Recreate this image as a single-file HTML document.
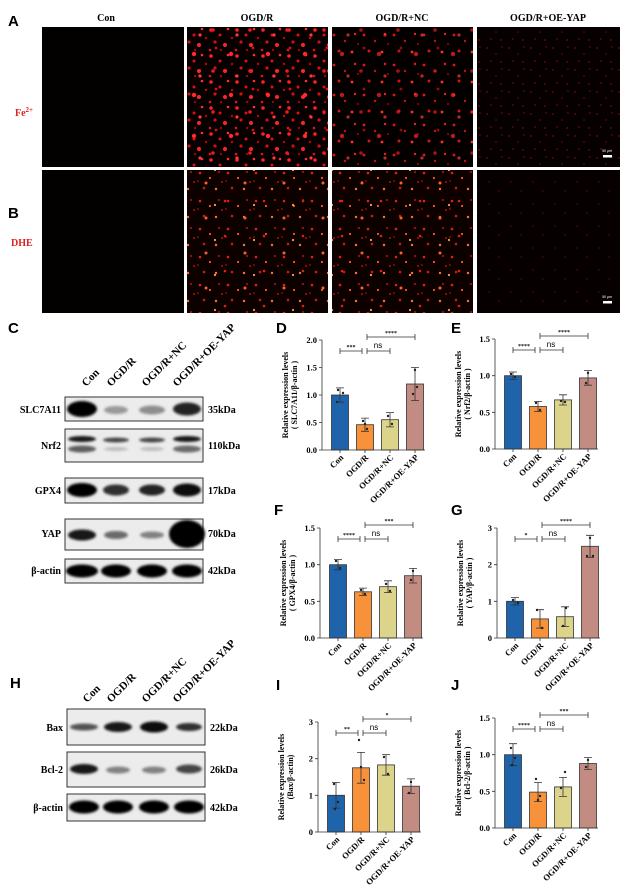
<!DOCTYPE html>
<html><head><meta charset="utf-8"><style>
body{margin:0;background:#fff}
svg{display:block}
.t{font-family:"Liberation Serif",serif;font-weight:bold}
.s{font-family:"Liberation Sans",sans-serif;font-weight:bold}
</style></head><body>
<svg width="620" height="892" viewBox="0 0 620 892" xmlns="http://www.w3.org/2000/svg">
<defs>
<filter id="bl" x="-50%" y="-50%" width="200%" height="200%"><feGaussianBlur stdDeviation="1.4"/></filter>
<pattern id="p1" width="26" height="26" patternUnits="userSpaceOnUse">
<rect width="26" height="26" fill="#060000"/>
<circle cx="3" cy="4" r="1.8" fill="#ff2020"/><circle cx="12" cy="9" r="1.5" fill="#e01010"/>
<circle cx="20" cy="3" r="1.3" fill="#ff3030"/><circle cx="7" cy="16" r="1.6" fill="#d01010"/>
<circle cx="17" cy="19" r="2" fill="#ff2525"/><circle cx="24" cy="12" r="1.2" fill="#c00"/>
<circle cx="2" cy="24" r="1.3" fill="#e51515"/><circle cx="13" cy="24" r="1.1" fill="#b00"/>
</pattern>
<pattern id="q1" width="37" height="41" patternUnits="userSpaceOnUse">
<circle cx="9" cy="13" r="2.2" fill="#ff2a2a"/><circle cx="28" cy="30" r="1.8" fill="#f01818"/>
<circle cx="31" cy="7" r="1.4" fill="#d81010"/><circle cx="15" cy="35" r="1.6" fill="#ff3a3a"/>
</pattern>
<pattern id="p2" width="30" height="30" patternUnits="userSpaceOnUse">
<rect width="30" height="30" fill="#050000"/>
<circle cx="4" cy="5" r="1.4" fill="#e01515"/><circle cx="15" cy="11" r="1.2" fill="#c01010"/>
<circle cx="25" cy="4" r="1.2" fill="#e52020"/><circle cx="9" cy="21" r="1.5" fill="#d01515"/>
<circle cx="22" cy="22" r="1.4" fill="#ff3020"/><circle cx="28" cy="14" r="1" fill="#a00"/>
</pattern>
<pattern id="p3" width="22" height="22" patternUnits="userSpaceOnUse">
<rect width="22" height="22" fill="#070000"/>
<circle cx="3" cy="4" r="1" fill="#5a0808"/><circle cx="12" cy="10" r="1" fill="#4a0505"/>
<circle cx="18" cy="3" r="0.9" fill="#600a0a"/><circle cx="7" cy="17" r="1" fill="#500707"/>
<circle cx="17" cy="18" r="1" fill="#5a0808"/>
</pattern>
<pattern id="p4" width="28" height="28" patternUnits="userSpaceOnUse">
<rect width="28" height="28" fill="#0d0100"/>
<circle cx="4" cy="5" r="1.3" fill="#e02010"/><circle cx="14" cy="10" r="1.1" fill="#ff5020"/>
<circle cx="23" cy="4" r="1" fill="#c01510"/><circle cx="8" cy="20" r="1.3" fill="#d01a10"/>
<circle cx="20" cy="21" r="1.2" fill="#ff7030"/><circle cx="26" cy="14" r="1" fill="#b01008"/>
<circle cx="2" cy="13" r="0.9" fill="#a01008"/>
</pattern>
<pattern id="q4" width="39" height="35" patternUnits="userSpaceOnUse">
<circle cx="11" cy="8" r="1.5" fill="#ff6020"/><circle cx="30" cy="26" r="1.3" fill="#e02010"/>
<circle cx="20" cy="30" r="1.1" fill="#ffa040"/>
</pattern>
<pattern id="p5" width="22" height="22" patternUnits="userSpaceOnUse">
<rect width="22" height="22" fill="#070000"/>
<circle cx="5" cy="6" r="1" fill="#3a0505"/><circle cx="15" cy="15" r="1" fill="#3a0505"/>
</pattern>
</defs>

<text class="s" x="8" y="26" font-size="15">A</text>
<text class="s" x="8" y="218" font-size="15">B</text>
<text class="t" x="106" y="21" font-size="10" text-anchor="middle">Con</text>
<text class="t" x="257" y="21" font-size="10" text-anchor="middle">OGD/R</text>
<text class="t" x="402" y="21" font-size="10" text-anchor="middle">OGD/R+NC</text>
<text class="t" x="548" y="21" font-size="10" text-anchor="middle">OGD/R+OE-YAP</text>
<text class="t" x="15" y="116" font-size="10" fill="#e02020">Fe<tspan font-size="7" dy="-4">2+</tspan></text>
<text class="t" x="11" y="246" font-size="10" fill="#e02020">DHE</text>

<rect x="42" y="27" width="142" height="140" fill="#030000"/>
<rect x="187" y="27" width="141" height="140" fill="url(#p1)"/>
<rect x="187" y="27" width="141" height="140" fill="url(#q1)"/>
<rect x="332" y="27" width="141" height="140" fill="url(#p2)"/>
<rect x="332" y="27" width="141" height="140" fill="url(#q1)" opacity=".7"/>
<rect x="477" y="27" width="143" height="140" fill="url(#p3)"/>
<rect x="42" y="170" width="142" height="143" fill="#030000"/>
<rect x="187" y="170" width="141" height="143" fill="url(#p4)"/>
<rect x="187" y="170" width="141" height="143" fill="url(#q4)"/>
<rect x="332" y="170" width="141" height="143" fill="url(#p4)"/>
<rect x="332" y="170" width="141" height="143" fill="url(#q4)"/>
<rect x="477" y="170" width="143" height="143" fill="url(#p5)"/>
<text x="612" y="152" font-size="3.5" fill="#fff" text-anchor="end" font-family="Liberation Sans,sans-serif">50 μm</text>
<rect x="603" y="155" width="9" height="2.5" fill="#fff"/>
<text x="612" y="298" font-size="3.5" fill="#fff" text-anchor="end" font-family="Liberation Sans,sans-serif">50 μm</text>
<rect x="603" y="301" width="9" height="2.5" fill="#fff"/>

<text class="s" x="8" y="333" font-size="15">C</text>
<g class="t" font-size="11">
<text transform="translate(86,387) rotate(-45)">Con</text>
<text transform="translate(111,387) rotate(-45)">OGD/R</text>
<text transform="translate(146,387) rotate(-45)">OGD/R+NC</text>
<text transform="translate(177,387) rotate(-45)">OGD/R+OE-YAP</text>
</g>
<g fill="#ececec" stroke="#333" stroke-width="1">
<rect x="65" y="397" width="138" height="24"/>
<rect x="65" y="429" width="138" height="33"/>
<rect x="65" y="478" width="138" height="25"/>
<rect x="65" y="519" width="138" height="31"/>
<rect x="65" y="559" width="138" height="24"/>
</g>
<g filter="url(#bl)" fill="#000">
<ellipse cx="82" cy="409" rx="15" ry="8"/>
<ellipse cx="116" cy="410" rx="12" ry="4" opacity=".35"/>
<ellipse cx="152" cy="410" rx="13" ry="4.5" opacity=".4"/>
<ellipse cx="187" cy="409" rx="14" ry="6.5" opacity=".85"/>
<ellipse cx="82" cy="439" rx="14" ry="3" opacity=".9"/>
<ellipse cx="82" cy="449" rx="14" ry="3.5" opacity=".6"/>
<ellipse cx="116" cy="440" rx="13" ry="2.5" opacity=".7"/>
<ellipse cx="116" cy="449" rx="12" ry="2" opacity=".2"/>
<ellipse cx="152" cy="440" rx="13" ry="2.5" opacity=".7"/>
<ellipse cx="152" cy="449" rx="12" ry="2" opacity=".2"/>
<ellipse cx="187" cy="439" rx="14" ry="3" opacity=".9"/>
<ellipse cx="187" cy="449" rx="14" ry="3.5" opacity=".55"/>
<ellipse cx="82" cy="490" rx="15" ry="7"/>
<ellipse cx="116" cy="490" rx="13" ry="5.5" opacity=".8"/>
<ellipse cx="152" cy="490" rx="13" ry="5.5" opacity=".85"/>
<ellipse cx="187" cy="490" rx="14" ry="6.5" opacity=".95"/>
<ellipse cx="82" cy="535" rx="14" ry="5.5" opacity=".9"/>
<ellipse cx="116" cy="535" rx="12" ry="4" opacity=".55"/>
<ellipse cx="152" cy="535" rx="12" ry="3.5" opacity=".45"/>
<ellipse cx="187" cy="534" rx="18" ry="14"/>
<ellipse cx="82" cy="571" rx="16" ry="6.5"/>
<ellipse cx="116" cy="571" rx="15" ry="6.5"/>
<ellipse cx="152" cy="571" rx="15" ry="6.5"/>
<ellipse cx="187" cy="571" rx="15" ry="6.5"/>
</g>
<g class="t" font-size="10">
<text x="61" y="413" text-anchor="end">SLC7A11</text>
<text x="61" y="449" text-anchor="end">Nrf2</text>
<text x="61" y="494" text-anchor="end">GPX4</text>
<text x="61" y="537" text-anchor="end">YAP</text>
<text x="61" y="574" text-anchor="end">β-actin</text>
<text x="208" y="413">35kDa</text>
<text x="208" y="449">110kDa</text>
<text x="208" y="494">17kDa</text>
<text x="208" y="537">70kDa</text>
<text x="208" y="574">42kDa</text>
</g>

<text class="s" x="10" y="688" font-size="15">H</text>
<g class="t" font-size="11">
<text transform="translate(87,703) rotate(-45)">Con</text>
<text transform="translate(111,703) rotate(-45)">OGD/R</text>
<text transform="translate(146,703) rotate(-45)">OGD/R+NC</text>
<text transform="translate(177,703) rotate(-45)">OGD/R+OE-YAP</text>
</g>
<g fill="#ececec" stroke="#333" stroke-width="1">
<rect x="67" y="709" width="138" height="36"/>
<rect x="67" y="752" width="138" height="35"/>
<rect x="67" y="794" width="138" height="27"/>
</g>
<g filter="url(#bl)" fill="#000">
<ellipse cx="84" cy="727" rx="14" ry="3.5" opacity=".65"/>
<ellipse cx="118" cy="727" rx="14" ry="5" opacity=".9"/>
<ellipse cx="154" cy="727" rx="14" ry="5.5" opacity=".95"/>
<ellipse cx="189" cy="727" rx="13" ry="4" opacity=".8"/>
<ellipse cx="84" cy="769" rx="14" ry="5" opacity=".9"/>
<ellipse cx="118" cy="770" rx="12" ry="3.5" opacity=".45"/>
<ellipse cx="154" cy="770" rx="12" ry="3.5" opacity=".45"/>
<ellipse cx="189" cy="769" rx="13" ry="4.5" opacity=".7"/>
<ellipse cx="84" cy="807" rx="15" ry="6.5"/>
<ellipse cx="118" cy="807" rx="15" ry="6.5"/>
<ellipse cx="154" cy="807" rx="15" ry="6.5"/>
<ellipse cx="189" cy="807" rx="15" ry="6.5"/>
</g>
<g class="t" font-size="10">
<text x="63" y="731" text-anchor="end">Bax</text>
<text x="63" y="773" text-anchor="end">Bcl-2</text>
<text x="63" y="811" text-anchor="end">β-actin</text>
<text x="210" y="731">22kDa</text>
<text x="210" y="773">26kDa</text>
<text x="210" y="811">42kDa</text>
</g>

<g class="s" font-size="15">
<text x="276" y="333">D</text><text x="451" y="333">E</text>
<text x="274" y="515">F</text><text x="451" y="515">G</text>
<text x="276" y="690">I</text><text x="451" y="690">J</text>
</g>

<!-- Chart D -->
<g transform="translate(322,340)" stroke="#333" stroke-width="0.8">
<rect x="9.5" y="55" width="17" height="55" fill="#1f63ab"/>
<rect x="34.5" y="84.7" width="17" height="25.3" fill="#f7923a"/>
<rect x="59.5" y="79.7" width="17" height="30.3" fill="#dcd48a"/>
<rect x="84.5" y="44" width="17" height="66" fill="#c38c82"/>
<path d="M18 47.9V62.2M14 47.9h8M14 62.2h8M43 78.1V91.3M39 78.1h8M39 91.3h8M68 72.6V86.9M64 72.6h8M64 86.9h8M93 27.5V60.5M89 27.5h8M89 60.5h8" fill="none"/>
<path d="M0 0V110H103M0 0h-3M0 27.5h-3M0 55h-3M0 82.5h-3M0 110h-3M18 110v3M43 110v3M68 110v3M93 110v3" fill="none"/>
<path d="M18 11h22M18 8v6M40 8v6M45 11h23M45 8v6M68 8v6M45 -3h48M45 -6v6M93 -6v6" fill="none"/>
<g fill="#222" stroke="none"><circle cx="16" cy="50" r="1.2"/><circle cx="21" cy="53" r="1.2"/><circle cx="15" cy="62" r="1.2"/><circle cx="41" cy="81" r="1.2"/><circle cx="45" cy="89" r="1.2"/><circle cx="43" cy="84" r="1.2"/><circle cx="66" cy="76" r="1.2"/><circle cx="70" cy="84" r="1.2"/><circle cx="93" cy="30" r="1.2"/><circle cx="91" cy="54" r="1.2"/><circle cx="95" cy="47" r="1.2"/></g>
</g>
<g transform="translate(322,340)" font-size="8.5" class="t">
<text x="-5" y="3" text-anchor="end">2.0</text><text x="-5" y="30.5" text-anchor="end">1.5</text><text x="-5" y="58" text-anchor="end">1.0</text><text x="-5" y="85.5" text-anchor="end">0.5</text><text x="-5" y="113" text-anchor="end">0.0</text>
<text x="29" y="9" font-size="6" text-anchor="middle">***</text><text x="56" y="8" font-size="8" font-weight="normal" font-family="Liberation Sans,sans-serif" text-anchor="middle">ns</text><text x="69" y="-5" font-size="6" text-anchor="middle">****</text>
<text transform="translate(-34,55) rotate(-90)" text-anchor="middle" font-size="8">Relative expression levels</text>
<text transform="translate(-25,55) rotate(-90)" text-anchor="middle" font-size="8">( SLC7A11/β-actin )</text>
<text transform="translate(22,118) rotate(-45)" text-anchor="end">Con</text><text transform="translate(47,118) rotate(-45)" text-anchor="end">OGD/R</text><text transform="translate(72,118) rotate(-45)" text-anchor="end">OGD/R+NC</text><text transform="translate(97,118) rotate(-45)" text-anchor="end">OGD/R+OE-YAP</text>
</g>

<!-- Chart E -->
<g transform="translate(495,339)" stroke="#333" stroke-width="0.8">
<rect x="9.5" y="36.7" width="17" height="73.3" fill="#1f63ab"/>
<rect x="34.5" y="67.5" width="17" height="42.5" fill="#f7923a"/>
<rect x="59.5" y="60.9" width="17" height="49.1" fill="#dcd48a"/>
<rect x="84.5" y="38.9" width="17" height="71.1" fill="#c38c82"/>
<path d="M18 33V40.4M14 33h8M14 40.4h8M43 62.4V72.6M39 62.4h8M39 72.6h8M68 55.8V66M64 55.8h8M64 66h8M93 31.6V46.2M89 31.6h8M89 46.2h8" fill="none"/>
<path d="M0 0V110H103M0 0h-3M0 36.7h-3M0 73.3h-3M0 110h-3M18 110v3M43 110v3M68 110v3M93 110v3" fill="none"/>
<path d="M18 11h22M18 8v6M40 8v6M45 11h23M45 8v6M68 8v6M45 -3h48M45 -6v6M93 -6v6" fill="none"/>
<g fill="#222" stroke="none"><circle cx="16" cy="35" r="1.2"/><circle cx="20" cy="38" r="1.2"/><circle cx="41" cy="64" r="1.2"/><circle cx="45" cy="71" r="1.2"/><circle cx="66" cy="62" r="1.2"/><circle cx="70" cy="63" r="1.2"/><circle cx="93" cy="34" r="1.2"/><circle cx="91" cy="44" r="1.2"/></g>
</g>
<g transform="translate(495,339)" font-size="8.5" class="t">
<text x="-5" y="3" text-anchor="end">1.5</text><text x="-5" y="39.7" text-anchor="end">1.0</text><text x="-5" y="76.3" text-anchor="end">0.5</text><text x="-5" y="113" text-anchor="end">0.0</text>
<text x="29" y="9" font-size="6" text-anchor="middle">****</text><text x="56" y="8" font-size="8" font-weight="normal" font-family="Liberation Sans,sans-serif" text-anchor="middle">ns</text><text x="69" y="-5" font-size="6" text-anchor="middle">****</text>
<text transform="translate(-34,55) rotate(-90)" text-anchor="middle" font-size="8">Relative expression levels</text>
<text transform="translate(-25,55) rotate(-90)" text-anchor="middle" font-size="8">( Nrf2/β-actin )</text>
<text transform="translate(22,118) rotate(-45)" text-anchor="end">Con</text><text transform="translate(47,118) rotate(-45)" text-anchor="end">OGD/R</text><text transform="translate(72,118) rotate(-45)" text-anchor="end">OGD/R+NC</text><text transform="translate(97,118) rotate(-45)" text-anchor="end">OGD/R+OE-YAP</text>
</g>

<!-- Chart F -->
<g transform="translate(320,528)" stroke="#333" stroke-width="0.8">
<rect x="9.5" y="36.7" width="17" height="73.3" fill="#1f63ab"/>
<rect x="34.5" y="63.8" width="17" height="46.2" fill="#f7923a"/>
<rect x="59.5" y="58.7" width="17" height="51.3" fill="#dcd48a"/>
<rect x="84.5" y="47.7" width="17" height="62.3" fill="#c38c82"/>
<path d="M18 31.6V41.8M14 31.6h8M14 41.8h8M43 60.1V67.5M39 60.1h8M39 67.5h8M68 52.8V64.6M64 52.8h8M64 64.6h8M93 40.4V55M89 40.4h8M89 55h8" fill="none"/>
<path d="M0 0V110H103M0 0h-3M0 36.7h-3M0 73.3h-3M0 110h-3M18 110v3M43 110v3M68 110v3M93 110v3" fill="none"/>
<path d="M18 11h22M18 8v6M40 8v6M45 11h23M45 8v6M68 8v6M45 -3h48M45 -6v6M93 -6v6" fill="none"/>
<g fill="#222" stroke="none"><circle cx="16" cy="33" r="1.2"/><circle cx="20" cy="40" r="1.2"/><circle cx="41" cy="62" r="1.2"/><circle cx="45" cy="66" r="1.2"/><circle cx="66" cy="56" r="1.2"/><circle cx="70" cy="63" r="1.2"/><circle cx="93" cy="43" r="1.2"/><circle cx="91" cy="52" r="1.2"/></g>
</g>
<g transform="translate(320,528)" font-size="8.5" class="t">
<text x="-5" y="3" text-anchor="end">1.5</text><text x="-5" y="39.7" text-anchor="end">1.0</text><text x="-5" y="76.3" text-anchor="end">0.5</text><text x="-5" y="113" text-anchor="end">0.0</text>
<text x="29" y="9" font-size="6" text-anchor="middle">****</text><text x="56" y="8" font-size="8" font-weight="normal" font-family="Liberation Sans,sans-serif" text-anchor="middle">ns</text><text x="69" y="-5" font-size="6" text-anchor="middle">***</text>
<text transform="translate(-34,55) rotate(-90)" text-anchor="middle" font-size="8">Relative expression levels</text>
<text transform="translate(-25,55) rotate(-90)" text-anchor="middle" font-size="8">( GPX4/β-actin )</text>
<text transform="translate(22,118) rotate(-45)" text-anchor="end">Con</text><text transform="translate(47,118) rotate(-45)" text-anchor="end">OGD/R</text><text transform="translate(72,118) rotate(-45)" text-anchor="end">OGD/R+NC</text><text transform="translate(97,118) rotate(-45)" text-anchor="end">OGD/R+OE-YAP</text>
</g>

<!-- Chart G -->
<g transform="translate(497,528)" stroke="#333" stroke-width="0.8">
<rect x="9.5" y="73.3" width="17" height="36.7" fill="#1f63ab"/>
<rect x="34.5" y="90.9" width="17" height="19.1" fill="#f7923a"/>
<rect x="59.5" y="88.7" width="17" height="21.3" fill="#dcd48a"/>
<rect x="84.5" y="18.3" width="17" height="91.7" fill="#c38c82"/>
<path d="M18 69.6V77M14 69.6h8M14 77h8M43 81.7V100.1M39 81.7h8M39 100.1h8M68 78.8V98.6M64 78.8h8M64 98.6h8M93 7.3V29.3M89 7.3h8M89 29.3h8" fill="none"/>
<path d="M0 0V110H103M0 0h-3M0 36.7h-3M0 73.3h-3M0 110h-3M18 110v3M43 110v3M68 110v3M93 110v3" fill="none"/>
<path d="M18 11h22M18 8v6M40 8v6M45 11h23M45 8v6M68 8v6M45 -3h48M45 -6v6M93 -6v6" fill="none"/>
<g fill="#222" stroke="none"><circle cx="16" cy="72" r="1.2"/><circle cx="21" cy="75" r="1.2"/><circle cx="40" cy="82" r="1.2"/><circle cx="45" cy="100" r="1.2"/><circle cx="66" cy="98" r="1.2"/><circle cx="69" cy="80" r="1.2"/><circle cx="93" cy="10" r="1.2"/><circle cx="90" cy="28" r="1.2"/><circle cx="96" cy="28" r="1.2"/></g>
</g>
<g transform="translate(497,528)" font-size="8.5" class="t">
<text x="-5" y="3" text-anchor="end">3</text><text x="-5" y="39.7" text-anchor="end">2</text><text x="-5" y="76.3" text-anchor="end">1</text><text x="-5" y="113" text-anchor="end">0</text>
<text x="29" y="9" font-size="6" text-anchor="middle">*</text><text x="56" y="8" font-size="8" font-weight="normal" font-family="Liberation Sans,sans-serif" text-anchor="middle">ns</text><text x="69" y="-5" font-size="6" text-anchor="middle">****</text>
<text transform="translate(-34,55) rotate(-90)" text-anchor="middle" font-size="8">Relative expression levels</text>
<text transform="translate(-25,55) rotate(-90)" text-anchor="middle" font-size="8">( YAP/β-actin )</text>
<text transform="translate(22,118) rotate(-45)" text-anchor="end">Con</text><text transform="translate(47,118) rotate(-45)" text-anchor="end">OGD/R</text><text transform="translate(72,118) rotate(-45)" text-anchor="end">OGD/R+NC</text><text transform="translate(97,118) rotate(-45)" text-anchor="end">OGD/R+OE-YAP</text>
</g>

<!-- Chart I -->
<g transform="translate(318,722)" stroke="#333" stroke-width="0.8">
<rect x="9.5" y="73.3" width="17" height="36.7" fill="#1f63ab"/>
<rect x="34.5" y="45.8" width="17" height="64.2" fill="#f7923a"/>
<rect x="59.5" y="42.9" width="17" height="67.1" fill="#dcd48a"/>
<rect x="84.5" y="64.2" width="17" height="45.8" fill="#c38c82"/>
<path d="M18 60.5V86.1M14 60.5h8M14 86.1h8M43 30.4V61.2M39 30.4h8M39 61.2h8M68 32.6V53.2M64 32.6h8M64 53.2h8M93 56.9V71.5M89 56.9h8M89 71.5h8" fill="none"/>
<path d="M0 0V110H103M0 0h-3M0 36.7h-3M0 73.3h-3M0 110h-3M18 110v3M43 110v3M68 110v3M93 110v3" fill="none"/>
<path d="M18 11h22M18 8v6M40 8v6M45 11h23M45 8v6M68 8v6M45 -3h48M45 -6v6M93 -6v6" fill="none"/>
<g fill="#222" stroke="none"><circle cx="16" cy="62" r="1.2"/><circle cx="20" cy="80" r="1.2"/><circle cx="17" cy="87" r="1.2"/><circle cx="41" cy="18" r="1.2"/><circle cx="43" cy="45" r="1.2"/><circle cx="46" cy="58" r="1.2"/><circle cx="66" cy="35" r="1.2"/><circle cx="70" cy="52" r="1.2"/><circle cx="93" cy="60" r="1.2"/><circle cx="91" cy="71" r="1.2"/></g>
</g>
<g transform="translate(318,722)" font-size="8.5" class="t">
<text x="-5" y="3" text-anchor="end">3</text><text x="-5" y="39.7" text-anchor="end">2</text><text x="-5" y="76.3" text-anchor="end">1</text><text x="-5" y="113" text-anchor="end">0</text>
<text x="29" y="9" font-size="6" text-anchor="middle">**</text><text x="56" y="8" font-size="8" font-weight="normal" font-family="Liberation Sans,sans-serif" text-anchor="middle">ns</text><text x="69" y="-5" font-size="6" text-anchor="middle">*</text>
<text transform="translate(-34,55) rotate(-90)" text-anchor="middle" font-size="8">Relative expression levels</text>
<text transform="translate(-25,55) rotate(-90)" text-anchor="middle" font-size="8">(Bax/β-actin)</text>
<text transform="translate(22,118) rotate(-45)" text-anchor="end">Con</text><text transform="translate(47,118) rotate(-45)" text-anchor="end">OGD/R</text><text transform="translate(72,118) rotate(-45)" text-anchor="end">OGD/R+NC</text><text transform="translate(97,118) rotate(-45)" text-anchor="end">OGD/R+OE-YAP</text>
</g>

<!-- Chart J -->
<g transform="translate(495,718)" stroke="#333" stroke-width="0.8">
<rect x="9.5" y="36.7" width="17" height="73.3" fill="#1f63ab"/>
<rect x="34.5" y="74.1" width="17" height="35.9" fill="#f7923a"/>
<rect x="59.5" y="68.9" width="17" height="41.1" fill="#dcd48a"/>
<rect x="84.5" y="45.5" width="17" height="64.5" fill="#c38c82"/>
<path d="M18 25.7V47.7M14 25.7h8M14 47.7h8M43 64.6V83.6M39 64.6h8M39 83.6h8M68 59.4V78.4M64 59.4h8M64 78.4h8M93 39.6V51.4M89 39.6h8M89 51.4h8" fill="none"/>
<path d="M0 0V110H103M0 0h-3M0 36.7h-3M0 73.3h-3M0 110h-3M18 110v3M43 110v3M68 110v3M93 110v3" fill="none"/>
<path d="M18 11h22M18 8v6M40 8v6M45 11h23M45 8v6M68 8v6M45 -3h48M45 -6v6M93 -6v6" fill="none"/>
<g fill="#222" stroke="none"><circle cx="16" cy="30" r="1.2"/><circle cx="20" cy="40" r="1.2"/><circle cx="17" cy="47" r="1.2"/><circle cx="41" cy="61" r="1.2"/><circle cx="45" cy="78" r="1.2"/><circle cx="43" cy="82" r="1.2"/><circle cx="66" cy="70" r="1.2"/><circle cx="70" cy="54" r="1.2"/><circle cx="93" cy="42" r="1.2"/><circle cx="91" cy="49" r="1.2"/></g>
</g>
<g transform="translate(495,718)" font-size="8.5" class="t">
<text x="-5" y="3" text-anchor="end">1.5</text><text x="-5" y="39.7" text-anchor="end">1.0</text><text x="-5" y="76.3" text-anchor="end">0.5</text><text x="-5" y="113" text-anchor="end">0.0</text>
<text x="29" y="9" font-size="6" text-anchor="middle">****</text><text x="56" y="8" font-size="8" font-weight="normal" font-family="Liberation Sans,sans-serif" text-anchor="middle">ns</text><text x="69" y="-5" font-size="6" text-anchor="middle">***</text>
<text transform="translate(-34,55) rotate(-90)" text-anchor="middle" font-size="8">Relative expression levels</text>
<text transform="translate(-25,55) rotate(-90)" text-anchor="middle" font-size="8">( Bcl-2/β-actin )</text>
<text transform="translate(22,118) rotate(-45)" text-anchor="end">Con</text><text transform="translate(47,118) rotate(-45)" text-anchor="end">OGD/R</text><text transform="translate(72,118) rotate(-45)" text-anchor="end">OGD/R+NC</text><text transform="translate(97,118) rotate(-45)" text-anchor="end">OGD/R+OE-YAP</text>
</g>
</svg>
</body></html>
